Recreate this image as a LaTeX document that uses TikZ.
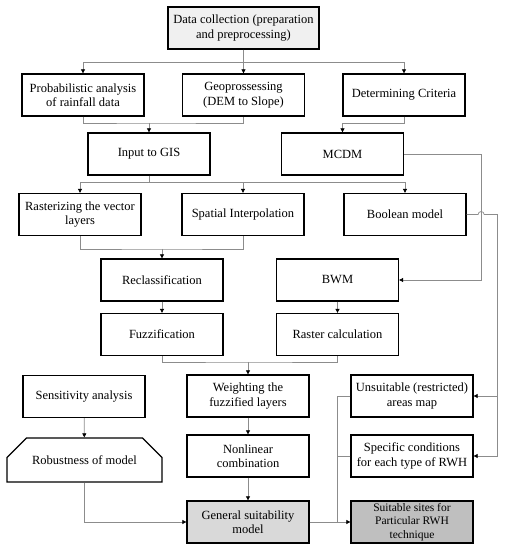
\documentclass[tikz,border=0pt]{standalone}
\usepackage{fontspec}
\setmainfont{Liberation Serif}
\usetikzlibrary{arrows.meta,shapes.misc}

\begin{document}
\begin{tikzpicture}[x=1pt,y=1pt,
	box/.style={draw, line width=1.3pt, minimum width=122pt, minimum height=42pt, align=center, inner sep=1pt, font=\fontsize{12.5}{14.5}\selectfont},
	conn/.style={draw=black!45, line width=0.7pt},
	arr/.style={conn, -{Triangle[black, length=4pt, width=4pt]}}]
	\useasboundingbox (0,0) rectangle (505,550);

		\node[box, fill=black!6, minimum width=151pt] (data) at (243.5,522) {Data collection (preparation\\and preprocessing)};
		\node[box] (prob) at (83,455) {Probabilistic analysis\\of rainfall data};
		\node[box] (geo) at (243.5,455) {Geoprossessing\\(DEM to Slope)};
		\node[box] (crit) at (404,455) {Determining Criteria};
		\node[box] (gis) at (149,396) {Input to GIS};
		\node[box] (mcdm) at (342.5,396) {MCDM};
		\node[box] (rast) at (80,335.5) {Rasterizing the vector\\layers};
		\node[box] (interp) at (243,335.5) {Spatial Interpolation};
		\node[box] (bool) at (405,335.5) {Boolean model};
		\node[box] (reclass) at (162,270) {Reclassification};
		\node[box] (bwm) at (337.5,270) {BWM};
		\node[box] (fuzz) at (162,215.5) {Fuzzification};
		\node[box] (rcalc) at (337.5,215.5) {Raster calculation};
		\node[box] (sens) at (84,153.5) {Sensitivity analysis};
		\node[box] (weight) at (248,154) {Weighting the\\fuzzified layers};
		\node[box] (unsuit) at (412,154) {Unsuitable (restricted)\\areas map};
		\node[box, chamfered rectangle, chamfered rectangle corners={north west,north east}, chamfered rectangle xsep=12pt, chamfered rectangle ysep=14pt, minimum width=155pt, minimum height=44pt] (robust) at (84.5,90) {Robustness of model};
		\node[box] (nonlin) at (248,94) {Nonlinear\\combination};
		\node[box] (spec) at (412,94) {Specific conditions\\for each type of RWH};
		\node[box, fill=black!15] (gsm) at (248,28) {General suitability\\model};
		\node[box, fill=black!25, font=\fontsize{11.5}{13.5}\selectfont] (suit) at (412,28) {Suitable sites for\\Particular RWH\\technique};

		% data collection to the first row
		\coordinate (j1) at (243.5,488);
		\draw[conn] (data.south) -- (j1);
		\draw[arr] (j1) -| (prob.north);
		\draw[arr] (j1) -- (geo.north);
		\draw[arr] (j1) -| (crit.north);

		\coordinate (j2) at (149,427);
		\draw[conn] (prob.south) |- (j2) -| (geo.south);
		\draw[arr] (j2) -- (gis.north);
		\draw[arr] (crit.south) -- ++(0,-7) -| (mcdm.north);

		\coordinate (j3) at (149,368);
		\draw[conn] (gis.south) -- (j3);
		\draw[arr] (j3) -| (rast.north);
		\draw[arr] (j3) -| (interp.north);
		\draw[arr] (j3) -| (bool.north);

		\coordinate (j4) at (162,301);
		\draw[conn] (rast.south) |- (j4) -| (interp.south);
		\draw[arr] (j4) -- (reclass.north);
		\draw[arr] (reclass) -- (fuzz);
		\draw[arr] (bwm) -- (rcalc);
		\draw[arr] (mcdm.east) -- ++(77,0) |- (bwm.east);

		\coordinate (j5) at (248,188);
		\draw[conn] (fuzz.south) |- (j5) -| (rcalc.south);
		\draw[arr] (j5) -- (weight.north);

		% boolean model, jumping over the MCDM line
		\coordinate (b1) at (497,335.5);
		\draw[conn] (bool.east) -- ++(11.5,0) arc (180:0:3) -- (b1);
		\draw[arr] (b1) |- (unsuit.east);
		\draw[arr] (b1) |- (spec.east);

		\draw[arr] (sens) -- (robust);
		\draw[arr] (weight) -- (nonlin);
		\draw[arr] (nonlin) -- (gsm);
		\draw[arr] (robust.south) |- (gsm.west);
		\coordinate (j6) at (337,28);
		\draw[conn] (unsuit.west) -| (j6);
		\draw[conn] (spec.west) -| (j6);
		\draw[arr] (gsm) -- (suit);
	\end{tikzpicture}
\end{document}
